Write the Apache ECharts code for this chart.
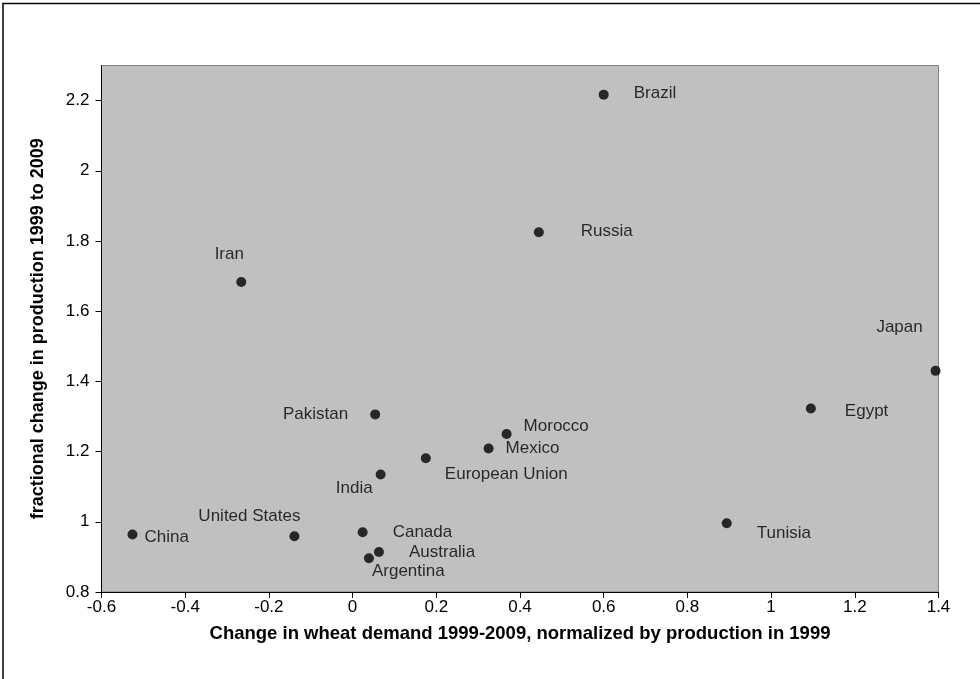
<!DOCTYPE html>
<html>
<head>
<meta charset="utf-8">
<script src="https://cdn.jsdelivr.net/npm/echarts@6/dist/echarts.min.js"></script>
<style>
html,body{margin:0;padding:0;background:#fff;}
#chart{width:980px;height:679px;}
</style>
</head>
<body>
<div id="chart"></div>
<script>
// Data
var countries = ['China','United States','Canada','Australia','Argentina','India','Pakistan','European Union','Mexico','Morocco','Iran','Russia','Brazil','Tunisia','Egypt','Japan'];
var demandChange = [-0.526,-0.139,0.024,0.063,0.039,0.067,0.054,0.175,0.325,0.368,-0.266,0.445,0.600,0.894,1.095,1.393];
var productionChange = [0.964,0.959,0.970,0.914,0.896,1.135,1.306,1.181,1.209,1.250,1.683,1.825,2.217,0.996,1.323,1.430];
var xTicks = [-0.6,-0.4,-0.2,0,0.2,0.4,0.6,0.8,1,1.2,1.4];
var yTicks = [0.8,1,1.2,1.4,1.6,1.8,2,2.2];
var xTitle = 'Change in wheat demand 1999-2009, normalized by production in 1999';
var yTitle = 'fractional change in production 1999 to 2009';

// Label placement (style only): align, dx, dy from dot centre
var labelPlacement = {
  'Brazil': ['left', 30, -1],
  'Russia': ['left', 42, -1],
  'Japan': ['center', -36, -44],
  'Egypt': ['left', 34, 3],
  'Tunisia': ['left', 30, 10],
  'China': ['left', 12, 3],
  'United States': ['right', 6, -20],
  'Canada': ['left', 30, 0],
  'Australia': ['left', 30, 0],
  'Argentina': ['left', 3, 13],
  'India': ['right', -8, 14],
  'European Union': ['left', 19, 16],
  'Mexico': ['left', 17, 0],
  'Morocco': ['left', 17, -8],
  'Pakistan': ['right', -27, 0],
  'Iran': ['center', -12, -28]
};

var FONT = '"Liberation Sans", Arial, sans-serif';

var seriesData = countries.map(function (name, i) {
  var p = labelPlacement[name];
  return {
    name: name,
    value: [demandChange[i], productionChange[i]],
    label: { align: p[0], offset: [p[1], p[2]] }
  };
});

var chart = echarts.init(document.getElementById('chart'), null, {renderer: 'canvas'});
chart.setOption({
  animation: false,
  backgroundColor: '#ffffff',
  graphic: [{
    type: 'rect',
    shape: {x: 3, y: 3.5, width: 1000, height: 700},
    style: {fill: 'none', stroke: '#000', lineWidth: 1.5},
    silent: true,
    z: 100
  }],
  grid: {
    left: 101.5, top: 65.5, right: 41.5, bottom: 87,
    show: true,
    backgroundColor: '#c0c0c0',
    borderColor: '#808080',
    borderWidth: 1
  },
  xAxis: {
    type: 'value',
    min: -0.6, max: 1.4, interval: 0.2,
    name: xTitle,
    nameLocation: 'middle',
    nameGap: 32,
    nameTextStyle: {fontFamily: FONT, fontSize: 18.5, fontWeight: 'bold', color: '#000'},
    axisLine: {show: true, onZero: false, lineStyle: {color: '#000', width: 1}},
    axisTick: {show: true, inside: false, length: 6, lineStyle: {color: '#000'}, customValues: xTicks},
    axisLabel: {
      fontFamily: FONT, fontSize: 17, color: '#000', margin: 7,
      customValues: xTicks,
      formatter: function (v) { return String(+v.toFixed(1)); }
    },
    splitLine: {show: false}
  },
  yAxis: {
    type: 'value',
    min: 0.8, max: 2.3,
    name: yTitle,
    nameLocation: 'middle',
    nameGap: 54,
    nameRotate: 90,
    nameTextStyle: {fontFamily: FONT, fontSize: 18, fontWeight: 'bold', color: '#000'},
    axisLine: {show: true, onZero: false, lineStyle: {color: '#000', width: 1}},
    axisTick: {show: true, inside: false, length: 6, lineStyle: {color: '#000'}, customValues: yTicks},
    axisLabel: {
      fontFamily: FONT, fontSize: 17, color: '#000', margin: 12,
      customValues: yTicks,
      formatter: function (v) { return String(+v.toFixed(1)); }
    },
    splitLine: {show: false}
  },
  series: [{
    type: 'scatter',
    data: seriesData,
    symbol: 'circle',
    symbolSize: 10,
    clip: false,
    itemStyle: {color: '#000'},
    label: {
      show: true,
      position: 'inside',
      verticalAlign: 'middle',
      formatter: '{b}',
      fontFamily: FONT,
      fontSize: 17,
      color: '#000'
    },
    emphasis: {disabled: true}
  }]
});
</script>
</body>
</html>
